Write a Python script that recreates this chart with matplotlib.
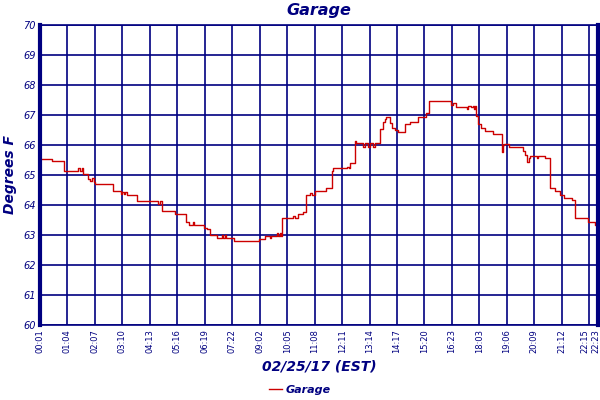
import numpy as np
import matplotlib
matplotlib.use("Agg")
import matplotlib.pyplot as plt
import matplotlib.transforms as mtransforms

# Step-change points: sample index where the reading changes, and the reading (deg F)
step_index = [0, 28, 55, 87, 92, 96, 99, 111, 115, 119, 123, 126, 167, 186, 189, 193, 195, 199,
              222, 271, 275, 279, 310, 312, 334, 342, 352, 354, 377, 383, 390, 406, 417, 420,
              424, 427, 446, 503, 516, 528, 530, 543, 546, 550, 553, 556, 581, 585, 591, 604,
              610, 620, 624, 631, 656, 669, 672, 705, 708, 711, 723, 725, 742, 746, 753, 757,
              765, 769, 779, 781, 786, 791, 794, 802, 807, 815, 821, 838, 849, 868, 886, 893,
              943, 948, 955, 979, 982, 988, 993, 996, 998, 1001, 1004, 1011, 1021, 1038, 1060,
              1062, 1065, 1075, 1108, 1113, 1117, 1121, 1125, 1140, 1142, 1159, 1170, 1182,
              1193, 1203, 1220, 1228, 1258, 1274, 1280]
step_temp = [65.55, 65.48, 65.13, 65.22, 65.13, 65.22, 65.03, 64.86, 64.80, 64.90, 64.78, 64.69,
             64.47, 64.38, 64.45, 64.36, 64.45, 64.32, 64.13, 64.03, 64.13, 63.80, 63.69, 63.70,
             63.42, 63.33, 63.42, 63.33, 63.24, 63.20, 62.99, 62.89, 62.99, 62.89, 62.99, 62.89,
             62.80, 62.88, 62.98, 62.89, 62.98, 63.07, 62.98, 63.07, 62.98, 63.56, 63.62, 63.56,
             63.70, 63.78, 64.33, 64.40, 64.33, 64.46, 64.56, 65.13, 65.22, 65.28, 65.22, 65.39,
             66.12, 66.06, 65.94, 66.06, 65.94, 66.06, 65.94, 66.06, 66.39, 66.55, 66.78, 66.88,
             66.92, 66.72, 66.58, 66.50, 66.44, 66.69, 66.78, 66.92, 67.06, 67.46, 67.33, 67.40,
             67.26, 67.20, 67.30, 67.26, 67.30, 67.20, 67.30, 66.97, 66.69, 66.58, 66.47, 66.37,
             65.78, 66.00, 66.03, 65.92, 65.81, 65.67, 65.44, 65.56, 65.64, 65.56, 65.64, 65.56,
             64.56, 64.48, 64.33, 64.22, 64.17, 63.56, 63.42, 63.33, 63.40]

tick_index = [0, 63, 126, 189, 252, 315, 378, 441, 504, 567, 630, 693, 756, 819, 882, 945,
              1008, 1071, 1134, 1197, 1260, 1280]
tick_labels = ["00:01", "01:04", "02:07", "03:10", "04:13", "05:16", "06:19", "07:22", "09:02",
               "10:05", "11:08", "12:11", "13:14", "14:17", "15:20", "16:23", "18:03", "19:06",
               "20:09", "21:12", "22:15", "22:23"]
y_ticks = [60, 61, 62, 63, 64, 65, 66, 67, 68, 69, 70]

navy = "#000080"
red = "#cc0000"

fig = plt.figure(figsize=(6, 4), dpi=100)
ax = fig.add_axes([40/600, 1-325/400, 558/600, 300/400])

ax.plot(step_index, step_temp, drawstyle="steps-post", color=red, lw=1.0, label="Garage")

ax.set_xlim(0, 1280)
ax.set_ylim(60, 70)
ax.set_xticks(tick_index)
ax.set_xticklabels(tick_labels, rotation=90, fontsize=6, color=navy, family="DejaVu Sans")
ax.set_yticks(y_ticks)
ax.set_yticklabels([str(v) for v in y_ticks], fontsize=7, color=navy, style="italic")
ax.tick_params(length=0, pad=3)
ax.grid(True, color=navy, lw=1.2)
ax.set_axisbelow(True)
for side in ["top", "bottom"]:
    ax.spines[side].set_color(navy)
    ax.spines[side].set_linewidth(1.2)
for side in ["left", "right"]:
    ax.spines[side].set_color(navy)
    ax.spines[side].set_linewidth(3)

# nudge the two crowded labels at the right end apart and inside the figure
labels = ax.get_xticklabels()
for lab, dx in ((labels[-2], -4), (labels[-1], -2.5)):
    lab.set_transform(lab.get_transform() + mtransforms.ScaledTranslation(dx/100, 0, fig.dpi_scale_trans))

fig.text(319/600, 1-10/400, "Garage", ha="center", va="center", fontsize=11.5,
         style="italic", weight="bold", color=navy)
fig.text(10/600, 1-175/400, "Degrees F", ha="center", va="center", rotation=90,
         fontsize=10, style="italic", weight="bold", color=navy)
fig.text(319/600, 1-367/400, "02/25/17 (EST)", ha="center", va="center", fontsize=10,
         style="italic", weight="bold", color=navy)
leg = fig.legend(loc="center", bbox_to_anchor=(300/600, 1-390/400), frameon=False,
                 prop={"size": 8, "style": "italic", "weight": "bold"},
                 handlelength=1.2, handletextpad=0.3)
for t in leg.get_texts():
    t.set_color(navy)

fig.savefig("out.png", dpi=100)
